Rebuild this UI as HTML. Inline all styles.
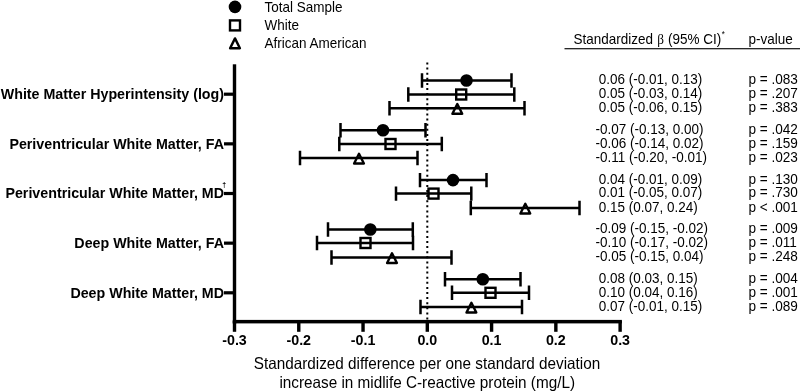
<!DOCTYPE html>
<html><head><meta charset="utf-8"><title>Forest plot</title>
<style>
html,body{margin:0;padding:0;background:#fff;}
body{width:800px;height:392px;overflow:hidden;}
svg{display:block;}
text{font-family:"Liberation Sans",Arial,sans-serif;fill:#000;}
.b{font-weight:bold;font-size:14.25px;}
.r{font-size:13.5px;}
.ax{font-size:15.3px;}
</style></head><body>
<svg width="800" height="392" viewBox="0 0 800 392">
<rect width="800" height="392" fill="#fff"/>

<circle cx="235" cy="6.9" r="6.3" fill="#000"/>
<rect x="230.00" y="20.40" width="10" height="10" fill="none" stroke="#000" stroke-width="2.4"/>
<path d="M235 38.40 L239.90 48.20 L230.10 48.20 Z" fill="none" stroke="#000" stroke-width="2.4" stroke-linejoin="round"/>
<text class="r" transform="translate(264.6 11.7) scale(1 1.14)" text-anchor="start" style="font-size:13.5px">Total Sample</text>
<text class="r" transform="translate(264.6 30.2) scale(1 1.14)" text-anchor="start" style="font-size:13.5px">White</text>
<text class="r" transform="translate(264.6 47.8) scale(1 1.14)" text-anchor="start" style="font-size:13.5px">African American</text>
<text class="r" transform="translate(573.5 43.7) scale(1 1.14)" text-anchor="start">Standardized<tspan font-family="Liberation Serif,serif" font-size="13.2px" dx="4.2">β</tspan><tspan dx="4.0">(95% CI)</tspan><tspan font-size="8px" dy="-5.5" dx="0.6">*</tspan></text>
<text class="r" transform="translate(748.6 43.7) scale(1 1.14)" text-anchor="start">p-value</text>
<rect x="564.5" y="48.1" width="235.5" height="1.2" fill="#111"/>
<line x1="427.3" y1="62.5" x2="427.3" y2="320" stroke="#000" stroke-width="2" stroke-dasharray="2 3.1"/>
<rect x="232.8" y="64.3" width="3.4" height="259.2" fill="#000"/>
<rect x="232.8" y="319.9" width="389.1" height="3.5" fill="#000"/>
<rect x="232.80" y="321" width="3.4" height="10.8" fill="#000"/>
<text class="b" x="234.50" y="344.8" text-anchor="middle">-0.3</text>
<rect x="297.07" y="321" width="3.4" height="10.8" fill="#000"/>
<text class="b" x="298.77" y="344.8" text-anchor="middle">-0.2</text>
<rect x="361.34" y="321" width="3.4" height="10.8" fill="#000"/>
<text class="b" x="363.04" y="344.8" text-anchor="middle">-0.1</text>
<rect x="425.61" y="321" width="3.4" height="10.8" fill="#000"/>
<text class="b" x="427.31" y="344.8" text-anchor="middle">0.0</text>
<rect x="489.88" y="321" width="3.4" height="10.8" fill="#000"/>
<text class="b" x="491.58" y="344.8" text-anchor="middle">0.1</text>
<rect x="554.15" y="321" width="3.4" height="10.8" fill="#000"/>
<text class="b" x="555.85" y="344.8" text-anchor="middle">0.2</text>
<rect x="618.42" y="321" width="3.4" height="10.8" fill="#000"/>
<text class="b" x="620.12" y="344.8" text-anchor="middle">0.3</text>
<rect x="224" y="92.60" width="10" height="3.2" fill="#000"/>
<text class="b" x="224" y="99.00" text-anchor="end">White Matter Hyperintensity (log)</text>
<rect x="224" y="142.25" width="10" height="3.2" fill="#000"/>
<text class="b" x="224" y="148.65" text-anchor="end">Periventricular White Matter, FA</text>
<rect x="224" y="191.90" width="10" height="3.2" fill="#000"/>
<text class="b" x="224" y="198.30" text-anchor="end">Periventricular White Matter, MD</text>
<rect x="224" y="241.55" width="10" height="3.2" fill="#000"/>
<text class="b" x="224" y="247.95" text-anchor="end">Deep White Matter, FA</text>
<rect x="224" y="291.20" width="10" height="3.2" fill="#000"/>
<text class="b" x="224" y="297.60" text-anchor="end">Deep White Matter, MD</text>
<text x="222.3" y="186.6" font-size="7px" font-weight="bold">†</text>
<path d="M422 80.55 H511.5 M422 73.35 V87.75 M511.5 73.35 V87.75" stroke="#000" stroke-width="2.5" fill="none"/>
<circle cx="466.5" cy="80.55" r="6.3" fill="#000"/>
<text class="r" transform="translate(598.8 84.35) scale(1 1.14)" text-anchor="start">0.06 (-0.01, 0.13)</text>
<text class="r" transform="translate(748.4 84.35) scale(1 1.14)" text-anchor="start" style="font-size:13.6px">p = .083</text>
<path d="M408.3 94.5 H514.3 M408.3 87.30 V101.70 M514.3 87.30 V101.70" stroke="#000" stroke-width="2.5" fill="none"/>
<rect x="456.20" y="89.50" width="10" height="10" fill="none" stroke="#000" stroke-width="2.4"/>
<text class="r" transform="translate(598.8 98.3) scale(1 1.14)" text-anchor="start">0.05 (-0.03, 0.14)</text>
<text class="r" transform="translate(748.4 98.3) scale(1 1.14)" text-anchor="start" style="font-size:13.6px">p = .207</text>
<path d="M389.5 108.3 H524.5 M389.5 101.10 V115.50 M524.5 101.10 V115.50" stroke="#000" stroke-width="2.5" fill="none"/>
<path d="M457.3 104.00 L462.20 113.80 L452.40 113.80 Z" fill="none" stroke="#000" stroke-width="2.4" stroke-linejoin="round"/>
<text class="r" transform="translate(598.8 112.1) scale(1 1.14)" text-anchor="start">0.05 (-0.06, 0.15)</text>
<text class="r" transform="translate(748.4 112.1) scale(1 1.14)" text-anchor="start" style="font-size:13.6px">p = .383</text>
<path d="M340.5 130.2 H425.5 M340.5 123.00 V137.40 M425.5 123.00 V137.40" stroke="#000" stroke-width="2.5" fill="none"/>
<circle cx="383" cy="130.2" r="6.3" fill="#000"/>
<text class="r" transform="translate(595.6 134.0) scale(1 1.14)" text-anchor="start">-0.07 (-0.13, 0.00)</text>
<text class="r" transform="translate(748.4 134.0) scale(1 1.14)" text-anchor="start" style="font-size:13.6px">p = .042</text>
<path d="M339.3 144.0 H441.8 M339.3 136.80 V151.20 M441.8 136.80 V151.20" stroke="#000" stroke-width="2.5" fill="none"/>
<rect x="385.50" y="139.00" width="10" height="10" fill="none" stroke="#000" stroke-width="2.4"/>
<text class="r" transform="translate(595.6 147.8) scale(1 1.14)" text-anchor="start">-0.06 (-0.14, 0.02)</text>
<text class="r" transform="translate(748.4 147.8) scale(1 1.14)" text-anchor="start" style="font-size:13.6px">p = .159</text>
<path d="M300 158.0 H417.5 M300 150.80 V165.20 M417.5 150.80 V165.20" stroke="#000" stroke-width="2.5" fill="none"/>
<path d="M359 153.70 L363.90 163.50 L354.10 163.50 Z" fill="none" stroke="#000" stroke-width="2.4" stroke-linejoin="round"/>
<text class="r" transform="translate(595.6 161.8) scale(1 1.14)" text-anchor="start">-0.11 (-0.20, -0.01)</text>
<text class="r" transform="translate(748.4 161.8) scale(1 1.14)" text-anchor="start" style="font-size:13.6px">p = .023</text>
<path d="M420 180.1 H486.5 M420 172.90 V187.30 M486.5 172.90 V187.30" stroke="#000" stroke-width="2.5" fill="none"/>
<circle cx="453" cy="180.1" r="6.3" fill="#000"/>
<text class="r" transform="translate(598.8 183.9) scale(1 1.14)" text-anchor="start">0.04 (-0.01, 0.09)</text>
<text class="r" transform="translate(748.4 183.9) scale(1 1.14)" text-anchor="start" style="font-size:13.6px">p = .130</text>
<path d="M396 193.6 H471.3 M396 186.40 V200.80 M471.3 186.40 V200.80" stroke="#000" stroke-width="2.5" fill="none"/>
<rect x="428.50" y="188.60" width="10" height="10" fill="none" stroke="#000" stroke-width="2.4"/>
<text class="r" transform="translate(598.8 197.4) scale(1 1.14)" text-anchor="start">0.01 (-0.05, 0.07)</text>
<text class="r" transform="translate(748.4 197.4) scale(1 1.14)" text-anchor="start" style="font-size:13.6px">p = .730</text>
<path d="M470.8 208.0 H579.5 M470.8 200.80 V215.20 M579.5 200.80 V215.20" stroke="#000" stroke-width="2.5" fill="none"/>
<path d="M525.3 203.70 L530.20 213.50 L520.40 213.50 Z" fill="none" stroke="#000" stroke-width="2.4" stroke-linejoin="round"/>
<text class="r" transform="translate(598.8 211.8) scale(1 1.14)" text-anchor="start">0.15 (0.07, 0.24)</text>
<text class="r" transform="translate(748.4 211.8) scale(1 1.14)" text-anchor="start" style="font-size:13.6px">p &lt; .001</text>
<path d="M328 229.5 H412.8 M328 222.30 V236.70 M412.8 222.30 V236.70" stroke="#000" stroke-width="2.5" fill="none"/>
<circle cx="370.3" cy="229.5" r="6.3" fill="#000"/>
<text class="r" transform="translate(595.6 233.3) scale(1 1.14)" text-anchor="start">-0.09 (-0.15, -0.02)</text>
<text class="r" transform="translate(748.4 233.3) scale(1 1.14)" text-anchor="start" style="font-size:13.6px">p = .009</text>
<path d="M317 243.0 H413 M317 235.80 V250.20 M413 235.80 V250.20" stroke="#000" stroke-width="2.5" fill="none"/>
<rect x="360.50" y="238.00" width="10" height="10" fill="none" stroke="#000" stroke-width="2.4"/>
<text class="r" transform="translate(595.6 246.8) scale(1 1.14)" text-anchor="start">-0.10 (-0.17, -0.02)</text>
<text class="r" transform="translate(748.4 246.8) scale(1 1.14)" text-anchor="start" style="font-size:13.6px">p = .011</text>
<path d="M331.5 257.5 H451.5 M331.5 250.30 V264.70 M451.5 250.30 V264.70" stroke="#000" stroke-width="2.5" fill="none"/>
<path d="M392 253.20 L396.90 263.00 L387.10 263.00 Z" fill="none" stroke="#000" stroke-width="2.4" stroke-linejoin="round"/>
<text class="r" transform="translate(595.6 261.3) scale(1 1.14)" text-anchor="start">-0.05 (-0.15, 0.04)</text>
<text class="r" transform="translate(748.4 261.3) scale(1 1.14)" text-anchor="start" style="font-size:13.6px">p = .248</text>
<path d="M445 279.3 H520.5 M445 272.10 V286.50 M520.5 272.10 V286.50" stroke="#000" stroke-width="2.5" fill="none"/>
<circle cx="482.8" cy="279.3" r="6.3" fill="#000"/>
<text class="r" transform="translate(598.8 283.1) scale(1 1.14)" text-anchor="start">0.08 (0.03, 0.15)</text>
<text class="r" transform="translate(748.4 283.1) scale(1 1.14)" text-anchor="start" style="font-size:13.6px">p = .004</text>
<path d="M452 292.8 H529 M452 285.60 V300.00 M529 285.60 V300.00" stroke="#000" stroke-width="2.5" fill="none"/>
<rect x="485.50" y="287.80" width="10" height="10" fill="none" stroke="#000" stroke-width="2.4"/>
<text class="r" transform="translate(598.8 296.6) scale(1 1.14)" text-anchor="start">0.10 (0.04, 0.16)</text>
<text class="r" transform="translate(748.4 296.6) scale(1 1.14)" text-anchor="start" style="font-size:13.6px">p = .001</text>
<path d="M420.5 307.0 H522 M420.5 299.80 V314.20 M522 299.80 V314.20" stroke="#000" stroke-width="2.5" fill="none"/>
<path d="M471.4 302.70 L476.30 312.50 L466.50 312.50 Z" fill="none" stroke="#000" stroke-width="2.4" stroke-linejoin="round"/>
<text class="r" transform="translate(598.8 310.8) scale(1 1.14)" text-anchor="start">0.07 (-0.01, 0.15)</text>
<text class="r" transform="translate(748.4 310.8) scale(1 1.14)" text-anchor="start" style="font-size:13.6px">p = .089</text>
<text class="ax" transform="translate(427 369.4) scale(1 1.05)" text-anchor="middle">Standardized difference per one standard deviation</text>
<text class="ax" transform="translate(427.2 387.7) scale(1 1.05)" text-anchor="middle">increase in midlife C-reactive protein (mg/L)</text>
</svg></body></html>
